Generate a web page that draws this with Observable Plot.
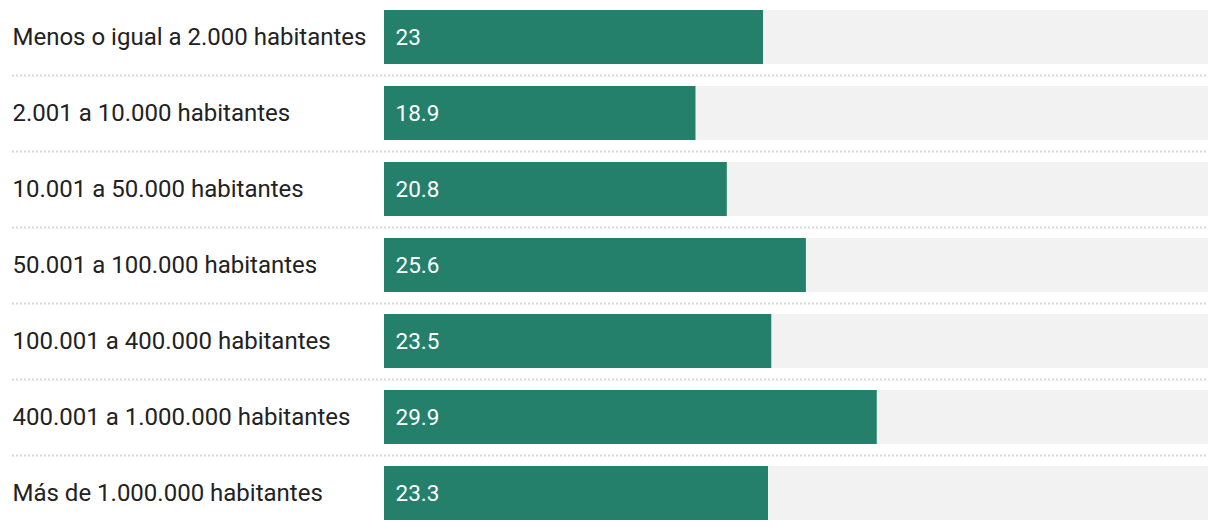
<!DOCTYPE html>
<html>
<head>
<meta charset="utf-8">
<script src="https://cdn.jsdelivr.net/npm/d3@7"></script>
<script src="https://cdn.jsdelivr.net/npm/@observablehq/plot@0.6"></script>
<style>
  html, body { margin: 0; padding: 0; background: #fff; }
  #chart svg { font-family: Roboto, sans-serif; }
</style>
</head>
<body>
<div id="chart"></div>
<script>
const categories = [
  "Menos o igual a 2.000 habitantes",
  "2.001 a 10.000 habitantes",
  "10.001 a 50.000 habitantes",
  "50.001 a 100.000 habitantes",
  "100.001 a 400.000 habitantes",
  "400.001 a 1.000.000 habitantes",
  "Más de 1.000.000 habitantes"
];
const values = [23, 18.9, 20.8, 25.6, 23.5, 29.9, 23.3];
const maxValue = 50;

const data = categories.map((c, i) => ({category: c, value: values[i]}));

const chart = Plot.plot({
  width: 1220,
  height: 530,
  marginLeft: 384,
  marginRight: 12,
  marginTop: 0,
  marginBottom: 0,
  style: {fontFamily: "Roboto, sans-serif", fontSize: "20px", background: "#fff"},
  x: {domain: [0, maxValue], axis: null},
  y: {domain: categories, axis: null, paddingInner: 0.2895, paddingOuter: 0.1317, round: false},
  marks: [
    Plot.ruleY(categories.slice(0, -1), {y: d => d, dy: 38, stroke: "#d6d6d6", strokeWidth: 2, strokeDasharray: "2,2", insetLeft: -372}),
    Plot.barX(data, {y: "category", x1: 0, x2: maxValue, fill: "#f2f2f2"}),
    Plot.barX(data, {y: "category", x: "value", fill: "#24806a"}),
    Plot.text(data, {y: "category", x: 0, text: d => String(d.value), dx: 11, textAnchor: "start", fill: "#fff", fontSize: 22.5}),
    Plot.text(data, {y: "category", frameAnchor: "left", text: "category", dx: -372, textAnchor: "start", fill: "#222", fontSize: 24})
  ]
});
document.getElementById("chart").appendChild(chart);
</script>
</body>
</html>
